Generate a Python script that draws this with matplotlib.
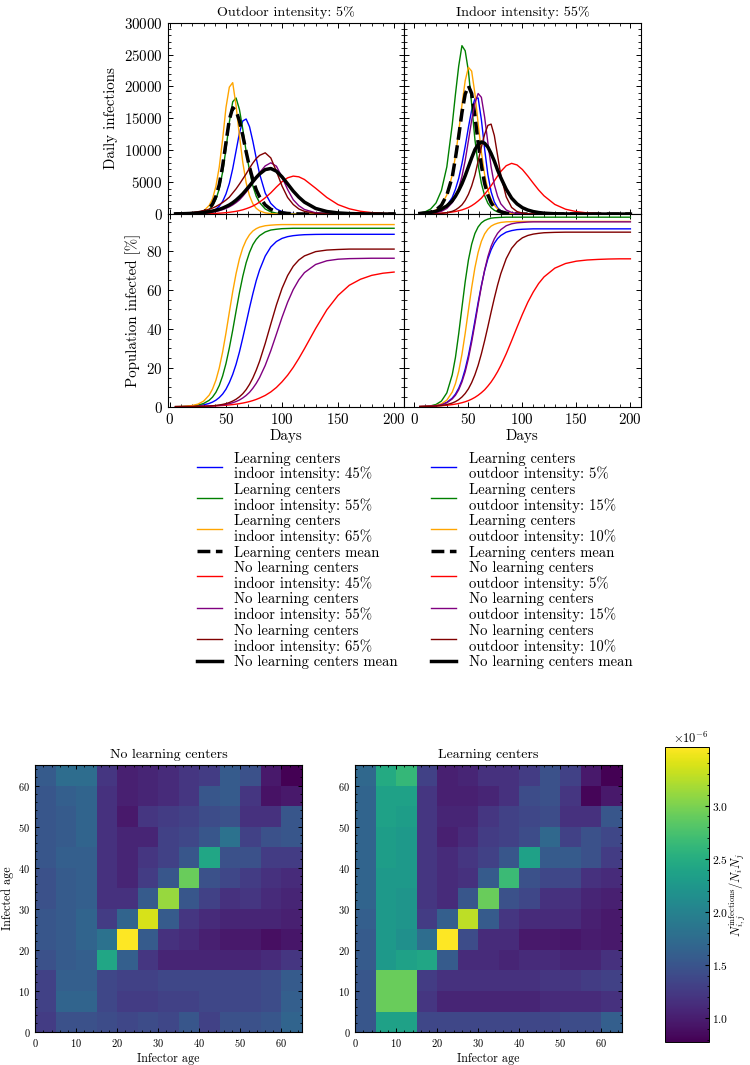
import matplotlib
matplotlib.use('Agg')
import matplotlib.pyplot as plt
from matplotlib.lines import Line2D
from matplotlib.ticker import AutoMinorLocator
import numpy as np

plt.rcParams.update({
    'font.family': ['cmr10', 'DejaVu Serif'],
    'mathtext.fontset': 'cm',
    'axes.formatter.use_mathtext': True,
    'axes.linewidth': 0.8,
    'font.size': 10.8,
})

# ---------------- data ----------------
days = [5, 10, 15, 20, 25, 30, 35, 38, 41, 44, 47, 50, 53, 56, 59, 62, 65, 68, 71, 74, 77, 80,
        85, 90, 95, 100, 105, 110, 115, 120, 130, 140, 150, 160, 170, 180, 190, 200]

# daily infections, thousands -- column "Outdoor intensity: 5%" (indoor varies)
lc_in45 = [0.002, 0.004, 0.01, 0.024, 0.055, 0.13, 0.29, 0.47, 0.77, 1.24, 1.98, 3.15, 4.8, 7.1, 9.9, 12.7, 14.6, 14.9, 13.7, 11.4, 8.75, 6.3,
           3.3, 1.67, 0.81, 0.37, 0.17, 0.08, 0.04, 0.02, 0.004, 0, 0, 0, 0, 0, 0, 0]
lc_in55 = [0.0, 0.005, 0.013, 0.036, 0.1, 0.27, 0.73, 1.29, 2.29, 3.95, 6.57, 10.2, 14.4, 17.6, 18.2, 16.4, 13.3, 9.8, 6.8, 4.4, 2.8, 1.8,
           0.8, 0.35, 0.15, 0.07, 0.03, 0.01, 0, 0, 0, 0, 0, 0, 0, 0, 0, 0]
lc_in65 = [0.0, 0.006, 0.02, 0.06, 0.17, 0.47, 1.35, 2.38, 4.35, 7.38, 11.7, 16.7, 19.9, 20.6, 17.0, 12.3, 8.1, 4.9, 2.86, 1.6, 0.9, 0.5,
           0.19, 0.07, 0.025, 0.01, 0, 0, 0, 0, 0, 0, 0, 0, 0, 0, 0, 0]
lc_in_mean = [0.002, 0.006, 0.017, 0.045, 0.12, 0.33, 0.89, 1.57, 2.76, 4.6, 7.5, 11.2, 14.8, 16.66, 16.2, 14.6, 12.3, 9.75, 7.35, 5.4, 3.8, 2.7,
              1.43, 0.75, 0.39, 0.2, 0.1, 0.05, 0.025, 0.012, 0.003, 0, 0, 0, 0, 0, 0, 0]
nolc_in45 = [0.007, 0.01, 0.015, 0.022, 0.032, 0.048, 0.07, 0.088, 0.11, 0.14, 0.175, 0.22, 0.275, 0.35, 0.43, 0.54, 0.67, 0.84, 1.03, 1.26, 1.54, 1.88,
             2.55, 3.33, 4.24, 5.07, 5.68, 5.95, 5.84, 5.42, 4.05, 2.6, 1.48, 0.83, 0.44, 0.23, 0.12, 0.06]
nolc_in55 = [0.02, 0.03, 0.045, 0.07, 0.105, 0.16, 0.25, 0.32, 0.41, 0.54, 0.69, 0.89, 1.13, 1.43, 1.79, 2.22, 2.8, 3.44, 4.14, 4.9, 5.7, 6.5,
             7.55, 8.04, 7.5, 5.8, 3.85, 2.25, 1.31, 0.72, 0.2, 0.056, 0.016, 0, 0, 0, 0, 0]
nolc_in65 = [0.08, 0.115, 0.17, 0.25, 0.37, 0.53, 0.76, 0.95, 1.18, 1.48, 1.81, 2.2, 2.65, 3.3, 3.95, 4.7, 5.5, 6.3, 7.2, 8.0, 8.7, 9.2,
             9.6, 8.8, 6.7, 4.4, 2.6, 1.5, 0.8, 0.43, 0.12, 0.03, 0.01, 0, 0, 0, 0, 0]
nolc_in_mean = [0.034, 0.05, 0.077, 0.114, 0.17, 0.25, 0.37, 0.47, 0.59, 0.74, 0.93, 1.17, 1.43, 1.77, 2.18, 2.66, 3.18, 3.79, 4.42, 5.09, 5.73, 6.29,
                6.97, 7.14, 6.72, 5.83, 4.73, 3.6, 2.65, 1.87, 0.88, 0.4, 0.18, 0.08, 0.034, 0.015, 0.006, 0.003]

# daily infections, thousands -- column "Indoor intensity: 55%" (outdoor varies)
lc_out5 = [0.04, 0.08, 0.16, 0.33, 0.67, 1.32, 2.6, 3.9, 5.6, 7.9, 10.6, 13.6, 16.3, 18.1, 18.2, 14.8, 10.2, 6.2, 3.5, 1.9, 1.0, 0.52,
           0.17, 0.06, 0.02, 0, 0, 0, 0, 0, 0, 0, 0, 0, 0, 0, 0, 0]
lc_out15 = [0.16, 0.36, 0.79, 1.74, 3.7, 7.4, 14.0, 18.8, 23.2, 26.4, 25.6, 22.4, 17.2, 11.7, 7.7, 4.8, 2.9, 1.7, 1.0, 0.59, 0.34, 0.2,
            0.08, 0.03, 0.01, 0, 0, 0, 0, 0, 0, 0, 0, 0, 0, 0, 0, 0]
lc_out10 = [0.06, 0.13, 0.29, 0.64, 1.4, 3.0, 6.1, 9.1, 12.9, 17.1, 20.9, 23.0, 22.4, 18.9, 14.2, 9.7, 6.2, 3.8, 2.3, 1.38, 0.81, 0.47,
            0.19, 0.08, 0.03, 0.01, 0, 0, 0, 0, 0, 0, 0, 0, 0, 0, 0, 0]
lc_out_mean = [0.06, 0.13, 0.29, 0.63, 1.38, 2.97, 5.8, 8.8, 12.2, 15.9, 18.8, 20.1, 18.9, 15.4, 11.2, 7.6, 4.8, 3.0, 1.77, 1.06, 0.61, 0.36,
               0.15, 0.06, 0.02, 0, 0, 0, 0, 0, 0, 0, 0, 0, 0, 0, 0, 0]
nolc_out5 = [0.026, 0.04, 0.06, 0.09, 0.14, 0.21, 0.32, 0.4, 0.52, 0.65, 0.83, 1.03, 1.31, 1.65, 2.05, 2.5, 3.1, 3.74, 4.44, 5.2, 5.96, 6.68,
             7.58, 7.95, 7.7, 6.98, 5.96, 4.85, 3.78, 2.86, 1.51, 0.76, 0.38, 0.18, 0.085, 0.04, 0.02, 0.01]
nolc_out15 = [0.02, 0.05, 0.1, 0.2, 0.43, 0.88, 1.79, 2.7, 4.0, 5.9, 8.4, 11.5, 14.7, 17.4, 18.9, 18.3, 15.2, 11.2, 7.4, 4.6, 2.8, 1.6,
              0.64, 0.25, 0.1, 0.04, 0.015, 0, 0, 0, 0, 0, 0, 0, 0, 0, 0, 0]
nolc_out10 = [0.007, 0.014, 0.028, 0.056, 0.11, 0.22, 0.43, 0.65, 1.0, 1.44, 2.14, 3.1, 4.4, 6.1, 8.3, 10.5, 12.5, 13.9, 14.1, 12.3, 9.2, 6.1,
              2.7, 1.04, 0.39, 0.15, 0.05, 0.02, 0, 0, 0, 0, 0, 0, 0, 0, 0, 0]
nolc_out_mean = [0.09, 0.15, 0.26, 0.45, 0.78, 1.27, 2.07, 2.8, 3.7, 4.75, 6.0, 7.4, 8.8, 10.1, 10.9, 11.3, 11.1, 10.5, 9.5, 8.3, 6.9, 5.7,
                 3.9, 2.5, 1.6, 1.0, 0.63, 0.39, 0.24, 0.14, 0.05, 0.02, 0.006, 0, 0, 0, 0, 0]

# population infected [%] -- outdoor 5% column
cum_lc_in45 = [0.05, 0.09, 0.16, 0.29, 0.53, 0.95, 1.69, 2.38, 3.35, 4.7, 6.5, 9.0, 12.4, 16.6, 21.8, 28.1, 35.4, 43.0, 50.8, 58.1, 64.8, 70.3,
               77.4, 82.1, 84.9, 86.5, 87.4, 87.9, 88.2, 88.4, 88.55, 88.6, 88.6, 88.6, 88.6, 88.6, 88.6, 88.6]
cum_lc_in55 = [0.05, 0.1, 0.2, 0.4, 0.82, 1.65, 3.3, 4.95, 7.4, 10.9, 15.8, 22.2, 30.2, 39.3, 49.1, 58.6, 67.0, 74.0, 79.3, 83.3, 86.0, 87.9,
               89.8, 90.8, 91.2, 91.5, 91.6, 91.7, 91.7, 91.7, 91.7, 91.7, 91.7, 91.7, 91.7, 91.7, 91.7, 91.7]
cum_lc_in65 = [0.06, 0.13, 0.29, 0.63, 1.34, 2.85, 5.95, 9.1, 13.6, 19.9, 28.1, 37.9, 48.6, 59.1, 68.4, 76.0, 81.6, 85.6, 88.4, 90.3, 91.5, 92.3,
               93.0, 93.3, 93.5, 93.6, 93.6, 93.6, 93.6, 93.6, 93.6, 93.6, 93.6, 93.6, 93.6, 93.6, 93.6, 93.6]
cum_nolc_in45 = [0.05, 0.07, 0.1, 0.13, 0.18, 0.24, 0.32, 0.38, 0.46, 0.55, 0.65, 0.78, 0.93, 1.1, 1.32, 1.58, 1.88, 2.24, 2.66, 3.16, 3.75, 4.45,
                 5.8, 7.6, 9.9, 12.8, 16.2, 20.2, 24.8, 29.8, 40.2, 49.8, 57.2, 62.4, 65.5, 67.5, 68.6, 69.2]
cum_nolc_in55 = [0.02, 0.03, 0.05, 0.08, 0.13, 0.2, 0.31, 0.41, 0.54, 0.7, 0.92, 1.2, 1.57, 2.05, 2.66, 3.45, 4.5, 5.8, 7.4, 9.5, 12.0, 15.0,
                 21.2, 28.8, 37.3, 45.9, 53.7, 60.2, 65.2, 68.9, 73.1, 75.0, 75.8, 76.1, 76.2, 76.3, 76.3, 76.3]
cum_nolc_in65 = [0.02, 0.03, 0.05, 0.08, 0.13, 0.22, 0.36, 0.49, 0.66, 0.89, 1.2, 1.6, 2.15, 2.9, 3.84, 5.1, 6.7, 8.8, 11.5, 14.8, 18.8, 23.4,
                 32.5, 42.5, 52.3, 60.8, 67.4, 72.2, 75.4, 77.5, 79.7, 80.5, 80.8, 81.0, 81.0, 81.0, 81.0, 81.0]

# population infected [%] -- indoor 55% column
cum_lc_out5 = [0.07, 0.14, 0.29, 0.57, 1.13, 2.25, 4.4, 6.5, 9.5, 13.6, 19.3, 26.4, 34.8, 44.1, 53.6, 62.3, 69.9, 76.0, 80.6, 84.0, 86.4, 88.0,
               89.7, 90.5, 91.0, 91.2, 91.3, 91.4, 91.4, 91.4, 91.4, 91.4, 91.4, 91.4, 91.4, 91.4, 91.4, 91.4]
cum_lc_out15 = [0.07, 0.18, 0.45, 1.15, 2.9, 7.1, 16.4, 25.4, 37.5, 51.0, 64.2, 75.4, 83.5, 89.0, 92.4, 94.5, 95.7, 96.4, 96.9, 97.1, 97.2, 97.3,
                97.4, 97.4, 97.4, 97.4, 97.4, 97.4, 97.4, 97.4, 97.4, 97.4, 97.4, 97.4, 97.4, 97.4, 97.4, 97.4]
cum_lc_out10 = [0.05, 0.12, 0.27, 0.64, 1.48, 3.36, 7.5, 11.9, 18.2, 26.9, 37.7, 49.6, 61.2, 71.4, 79.3, 85.0, 88.8, 91.2, 92.8, 93.7, 94.3, 94.7,
                95.0, 95.1, 95.2, 95.2, 95.2, 95.2, 95.2, 95.2, 95.2, 95.2, 95.2, 95.2, 95.2, 95.2, 95.2, 95.2]
cum_nolc_out5 = [0.12, 0.18, 0.26, 0.37, 0.53, 0.76, 1.09, 1.35, 1.66, 2.06, 2.55, 3.15, 3.9, 4.8, 5.9, 7.2, 8.7, 10.6, 12.7, 15.2, 18.0, 21.2,
                 27.2, 33.9, 40.8, 47.5, 53.7, 58.9, 63.3, 66.7, 71.2, 73.6, 74.8, 75.4, 75.7, 75.9, 76.0, 76.0]
cum_nolc_out15 = [0.06, 0.13, 0.26, 0.52, 1.03, 2.04, 4.0, 5.9, 8.7, 12.7, 17.9, 24.8, 33.2, 42.6, 52.4, 61.8, 70.2, 77.1, 82.4, 86.3, 89.1, 91.0,
                  93.0, 94.0, 94.5, 94.7, 94.9, 95.0, 95.0, 95.0, 95.0, 95.0, 95.0, 95.0, 95.0, 95.0, 95.0, 95.0]
cum_nolc_out10 = [0.07, 0.12, 0.21, 0.37, 0.64, 1.1, 1.9, 2.63, 3.62, 5.0, 6.8, 9.2, 12.4, 16.4, 21.3, 27.2, 33.9, 41.1, 48.6, 55.8, 62.5, 68.4,
                  76.1, 81.4, 84.7, 86.8, 88.0, 88.7, 89.1, 89.4, 89.6, 89.7, 89.7, 89.7, 89.7, 89.7, 89.7, 89.7]

# infection matrices (x 1e-6), rows = infected age bins 0-5 ... 60-65, cols = infector age bins
age_edges = [0, 65]
mat_nolc = [
    [1.27, 1.47, 1.47, 1.42, 1.37, 1.42, 1.37, 1.52, 1.32, 1.47, 1.47, 1.52, 1.67],
    [1.32, 1.67, 1.67, 1.37, 1.27, 1.27, 1.32, 1.32, 1.37, 1.37, 1.37, 1.42, 1.62],
    [1.32, 1.62, 1.62, 1.37, 1.32, 1.32, 1.37, 1.37, 1.37, 1.37, 1.37, 1.42, 1.57],
    [1.47, 1.57, 1.62, 2.42, 1.62, 1.22, 1.07, 1.07, 1.07, 1.07, 1.07, 1.12, 1.22],
    [1.52, 1.57, 1.67, 1.82, 3.55, 1.57, 1.17, 1.12, 1.02, 0.97, 0.97, 0.89, 0.95],
    [1.52, 1.57, 1.67, 1.27, 1.67, 3.38, 1.57, 1.22, 1.12, 1.07, 1.07, 1.07, 1.02],
    [1.47, 1.57, 1.62, 1.17, 1.17, 1.57, 3.12, 1.52, 1.32, 1.17, 1.22, 1.12, 1.07],
    [1.47, 1.57, 1.62, 1.17, 1.07, 1.27, 1.52, 2.92, 1.47, 1.37, 1.27, 1.17, 1.12],
    [1.52, 1.62, 1.62, 1.17, 1.07, 1.22, 1.32, 1.52, 2.42, 1.47, 1.47, 1.27, 1.27],
    [1.52, 1.57, 1.67, 1.17, 1.07, 1.07, 1.32, 1.37, 1.52, 1.82, 1.32, 1.47, 1.52],
    [1.52, 1.57, 1.67, 1.17, 0.97, 1.22, 1.27, 1.32, 1.42, 1.47, 1.17, 1.17, 1.52],
    [1.52, 1.62, 1.67, 1.17, 1.02, 1.07, 1.12, 1.22, 1.52, 1.57, 1.22, 0.92, 0.97],
    [1.57, 1.77, 1.77, 1.22, 1.02, 1.07, 1.12, 1.22, 1.27, 1.57, 1.47, 0.97, 0.79],
]
mat_lc = [
    [1.52, 2.37, 2.37, 1.37, 1.37, 1.37, 1.37, 1.37, 1.37, 1.37, 1.42, 1.42, 1.62],
    [1.52, 2.92, 2.92, 1.22, 1.07, 1.07, 1.07, 1.07, 1.07, 1.12, 1.12, 1.12, 1.17],
    [1.52, 2.92, 2.92, 1.27, 1.17, 1.17, 1.17, 1.17, 1.17, 1.22, 1.22, 1.27, 1.32],
    [1.57, 2.27, 2.37, 2.42, 1.57, 1.12, 1.12, 1.07, 1.12, 1.12, 1.07, 1.07, 1.17],
    [1.57, 2.27, 2.17, 1.77, 3.55, 1.42, 1.12, 1.12, 0.97, 0.97, 0.95, 0.99, 0.97],
    [1.62, 2.27, 2.22, 1.27, 1.62, 3.27, 1.57, 1.22, 1.12, 1.12, 1.12, 1.02, 0.97],
    [1.67, 2.27, 2.22, 1.22, 1.12, 1.52, 2.92, 1.47, 1.37, 1.17, 1.17, 1.07, 1.02],
    [1.67, 2.27, 2.27, 1.22, 1.12, 1.17, 1.57, 2.67, 1.47, 1.37, 1.37, 1.17, 1.12],
    [1.67, 2.32, 2.27, 1.22, 1.12, 1.22, 1.32, 1.52, 2.37, 1.57, 1.57, 1.47, 1.27],
    [1.67, 2.32, 2.27, 1.22, 1.02, 1.12, 1.27, 1.32, 1.42, 1.72, 1.32, 1.47, 1.37],
    [1.67, 2.37, 2.32, 1.22, 1.07, 1.07, 1.22, 1.32, 1.37, 1.42, 1.17, 1.17, 1.52],
    [1.67, 2.37, 2.37, 1.22, 1.02, 1.02, 1.07, 1.17, 1.42, 1.47, 1.22, 0.82, 0.97],
    [1.72, 2.47, 2.62, 1.32, 1.02, 1.07, 1.17, 1.17, 1.27, 1.47, 1.32, 0.97, 0.79],
]
cbar_ticks = [1.0, 1.5, 2.0, 2.5, 3.0]

colors = ['blue', 'green', 'orange', 'red', 'purple', 'maroon']


def styleAx(ax, minor=True):
    if minor:
        ax.xaxis.set_minor_locator(AutoMinorLocator())
        ax.yaxis.set_minor_locator(AutoMinorLocator())
    ax.tick_params(which='both', direction='in', top=True, right=True)
    ax.tick_params(which='major', length=3.5, width=0.7)
    ax.tick_params(which='minor', length=2, width=0.6)


def plotDaily(ax, lc, lc_mean, nolc, nolc_mean):
    for vals, c in zip(lc, colors[:3]):
        ax.plot(days, np.array(vals) * 1e3, color=c, lw=1.0)
    ax.plot(days, np.array(lc_mean) * 1e3, color='k', lw=2.5, ls='--')
    for vals, c in zip(nolc, colors[3:]):
        ax.plot(days, np.array(vals) * 1e3, color=c, lw=1.0)
    ax.plot(days, np.array(nolc_mean) * 1e3, color='k', lw=2.5)


def plotCum(ax, lc, nolc):
    for vals, c in zip(lc + nolc, colors):
        ax.plot(days, vals, color=c, lw=1.0)


fig = plt.figure(figsize=(7.5, 10.65), dpi=100)

x0, w = 0.2236, 0.3153
axTL = fig.add_axes([x0, 0.799, w, 0.1797])
axTR = fig.add_axes([x0 + w, 0.799, w, 0.1797], sharey=axTL)
axML = fig.add_axes([x0, 0.6181, w, 0.1809], sharex=axTL)
axMR = fig.add_axes([x0 + w, 0.6181, w, 0.1809], sharex=axTR, sharey=axML)

plotDaily(axTL, [lc_in45, lc_in55, lc_in65], lc_in_mean, [nolc_in45, nolc_in55, nolc_in65], nolc_in_mean)
plotDaily(axTR, [lc_out5, lc_out15, lc_out10], lc_out_mean, [nolc_out5, nolc_out15, nolc_out10], nolc_out_mean)
plotCum(axML, [cum_lc_in45, cum_lc_in55, cum_lc_in65], [cum_nolc_in45, cum_nolc_in55, cum_nolc_in65])
plotCum(axMR, [cum_lc_out5, cum_lc_out15, cum_lc_out10], [cum_nolc_out5, cum_nolc_out15, cum_nolc_out10])

for ax in [axTL, axTR, axML, axMR]:
    styleAx(ax)
axTL.set_ylim(0, 30000)
axML.set_ylim(0, 99)
axTL.set_xlim(-2, 209)
axTR.set_xlim(-9.5, 209.5)
axTL.set_xticks([0, 50, 100, 150, 200])
axTR.set_xticks([0, 50, 100, 150, 200])
axTL.tick_params(labelbottom=False)
axTR.tick_params(labelbottom=False, labelleft=False)
axMR.tick_params(labelleft=False)
axTL.set_title('Outdoor intensity: 5%', fontsize=10.2, pad=5)
axTR.set_title('Indoor intensity: 55%', fontsize=10.2, pad=5)
axTL.set_ylabel('Daily infections')
axML.set_ylabel('Population infected [%]')
axML.set_xlabel('Days', labelpad=2)
axMR.set_xlabel('Days', labelpad=2)

# legends
def legendHandles():
    hs = [Line2D([], [], color=c, lw=1.0) for c in colors[:3]]
    hs.append(Line2D([], [], color='k', lw=2.5, ls='--'))
    hs += [Line2D([], [], color=c, lw=1.0) for c in colors[3:]]
    hs.append(Line2D([], [], color='k', lw=2.5))
    return hs

labels_in = ['Learning centers\nindoor intensity: 45%', 'Learning centers\nindoor intensity: 55%',
             'Learning centers\nindoor intensity: 65%', 'Learning centers mean',
             'No learning centers\nindoor intensity: 45%', 'No learning centers\nindoor intensity: 55%',
             'No learning centers\nindoor intensity: 65%', 'No learning centers mean']
labels_out = ['Learning centers\noutdoor intensity: 5%', 'Learning centers\noutdoor intensity: 15%',
              'Learning centers\noutdoor intensity: 10%', 'Learning centers mean',
              'No learning centers\noutdoor intensity: 5%', 'No learning centers\noutdoor intensity: 15%',
              'No learning centers\noutdoor intensity: 10%', 'No learning centers mean']
for labs, xa in [(labels_in, 0.262), (labels_out, 0.575)]:
    leg = fig.legend(legendHandles(), labs, loc='upper left', bbox_to_anchor=(xa, 0.576), frameon=False,
                     fontsize=10.6, handlelength=1.7, handletextpad=0.85, labelspacing=0.1,
                     borderpad=0, borderaxespad=0)
    for t in leg.get_texts():
        t.set_linespacing(1.1)

# heatmaps
vmin, vmax = 0.78e-6, 3.55e-6
axHL = fig.add_axes([0.0467, 0.0313, 0.356, 0.2504])
axHR = fig.add_axes([0.4733, 0.0313, 0.356, 0.2504])
for ax, mat, title in [(axHL, mat_nolc, 'No learning centers'), (axHR, mat_lc, 'Learning centers')]:
    im = ax.imshow(np.array(mat) * 1e-6, origin='lower', extent=age_edges * 2, cmap='viridis',
                   vmin=vmin, vmax=vmax, interpolation='nearest', aspect='equal')
    ax.set_xticks(range(0, 61, 10))
    ax.set_yticks(range(0, 61, 10))
    styleAx(ax)
    ax.tick_params(which='major', length=3, labelsize=7.5)
    ax.tick_params(which='minor', length=1.5)
    ax.set_title(title, fontsize=10, pad=5)
    ax.set_xlabel('Infector age', fontsize=8.7, labelpad=3)
axHL.set_ylabel('Infected age', fontsize=8.7, labelpad=3)

cax = fig.add_axes([0.8867, 0.0219, 0.0587, 0.2764])
cbar = fig.colorbar(im, cax=cax)
cbar.set_ticks([t * 1e-6 for t in cbar_ticks])
cbar.ax.minorticks_on()
cbar.ax.tick_params(which='both', direction='in', labelsize=8.3, pad=2)
cbar.ax.tick_params(which='major', length=3)
cbar.ax.tick_params(which='minor', length=1.5)
cbar.ax.yaxis.get_offset_text().set_fontsize(9)
cbar.outline.set_linewidth(0.7)
cbar.set_label(r'$N^{\rm infections}_{i,j}/N_iN_j$', fontsize=9, labelpad=0)

fig.savefig('out.png', dpi=100)
